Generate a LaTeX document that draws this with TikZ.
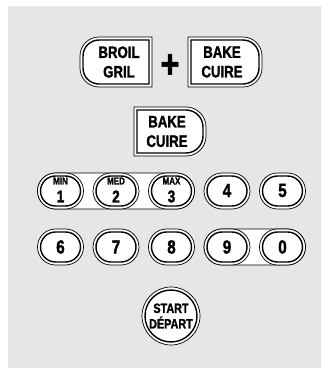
\documentclass[tikz,border=0pt]{standalone}
\usepackage{fontspec}
\newfontfamily\cnd{Liberation Sans}[FakeStretch=0.8,UprightFont=*-Bold,FakeBold=1.6,AutoFakeBold=1.6]
\definecolor{panel}{HTML}{E6E6E6}
% left-rounded box: style, x1, x2, Ytop, Ybot, r
\newcommand\KbL[6]{\draw[#1] (#3,#4) -- ({#2+(#6)},#4) arc[start angle=90,end angle=180,radius=#6] -- (#2,{#5+(#6)}) arc[start angle=180,end angle=270,radius=#6] -- (#3,#5) -- cycle;}
% right-rounded box
\newcommand\KbR[6]{\draw[#1] (#2,#4) -- ({#3-(#6)},#4) arc[start angle=90,end angle=0,radius=#6] -- (#3,{#5+(#6)}) arc[start angle=0,end angle=-90,radius=#6] -- (#2,#5) -- cycle;}
% pill
\newcommand\Kpill[6]{\draw[#1] ({#2+(#6)},#4) -- ({#3-(#6)},#4) arc[start angle=90,end angle=-90,radius=#6] -- ({#2+(#6)},#5) arc[start angle=270,end angle=90,radius=#6] -- cycle;}
\newcommand\ButL[5]{\KbL{outerline}{#1}{#2}{#3}{#4}{#5}\KbL{innerline}{#1+3}{#2-3}{#3-3}{#4+3}{#5-3}}
\newcommand\ButR[5]{\KbR{outerline}{#1}{#2}{#3}{#4}{#5}\KbR{innerline}{#1+3}{#2-3}{#3-3}{#4+3}{#5-3}}
\newcommand\Pill[2]{\Kpill{outerline}{#1-23}{#1+23}{#2+18}{#2-18}{18}\Kpill{innerline}{#1-20}{#1+20}{#2+15}{#2-15}{15}}
\begin{document}
\begin{tikzpicture}[x=1pt,y=1pt,
  outerline/.style={draw=black,line width=0.7pt,fill=white},
  innerline/.style={draw=black,line width=1.4pt},
  lbl/.style={font=\cnd\bfseries\fontsize{16.5}{19.5}\selectfont,align=center,inner sep=0pt},
  dig/.style={font=\cnd\bfseries\fontsize{19}{19}\selectfont,inner sep=0pt},
  digs/.style={font=\cnd\bfseries\fontsize{17}{17}\selectfont,inner sep=0pt},
  sml/.style={font=\cnd\bfseries\fontsize{10}{10}\selectfont,inner sep=0pt},
  startlbl/.style={font=\cnd\bfseries\fontsize{13.5}{15.5}\selectfont,align=center,inner sep=0pt},
  plus/.style={font=\cnd\bfseries\fontsize{40}{40}\selectfont,inner sep=0pt}]
\useasboundingbox (0,0) rectangle (321,368);
\fill[panel] (8,0) rectangle (321,362);
% top row
\ButL{80}{152}{331}{281}{19}
\node[lbl] (broil) at (119,306) {BROIL\\GRIL};
\node[plus] (plussign) at (170,302) {+};
\ButR{188}{262}{331}{281}{19}
\node[lbl] (bake1) at (222,306) {BAKE\\CUIRE};
% middle bake
\ButR{134}{206}{261}{212}{20}
\node[lbl] (bake2) at (167,236.5) {BAKE\\CUIRE};
% bands
\Kpill{outerline}{37.5}{194.5}{195}{159}{18}
\Kpill{outerline}{204}{305.5}{139}{103}{18}
% row 1
\Pill{60.5}{177}
\Pill{116}{177}
\Pill{171.5}{177}
\Pill{227}{177}
\Pill{282.5}{177}
\node[sml] (min) at (60.5,187) {MIN};
\node[digs] (k1) at (60.5,171.5) {1};
\node[sml] (med) at (116,187) {MED};
\node[digs] (k2) at (116,171.5) {2};
\node[sml] (max) at (171.5,187) {MAX};
\node[digs] (k3) at (171.5,171.5) {3};
\node[dig] (k4) at (227,177.5) {4};
\node[dig] (k5) at (282.5,177.5) {5};
% row 2
\Pill{60.5}{121}
\Pill{116}{121}
\Pill{171.5}{121}
\Pill{227}{121}
\Pill{282.5}{121}
\node[dig] (k6) at (60.5,121) {6};
\node[dig] (k7) at (116,121) {7};
\node[dig] (k8) at (171.5,121) {8};
\node[dig] (k9) at (227,121) {9};
\node[dig] (k0) at (282.5,121) {0};
% start
\draw[outerline] (171,52) circle[radius=29];
\draw[innerline] (171,52) circle[radius=26];
\node[startlbl] (start) at (171,52) {START\\DÉPART};
\end{tikzpicture}
\end{document}
